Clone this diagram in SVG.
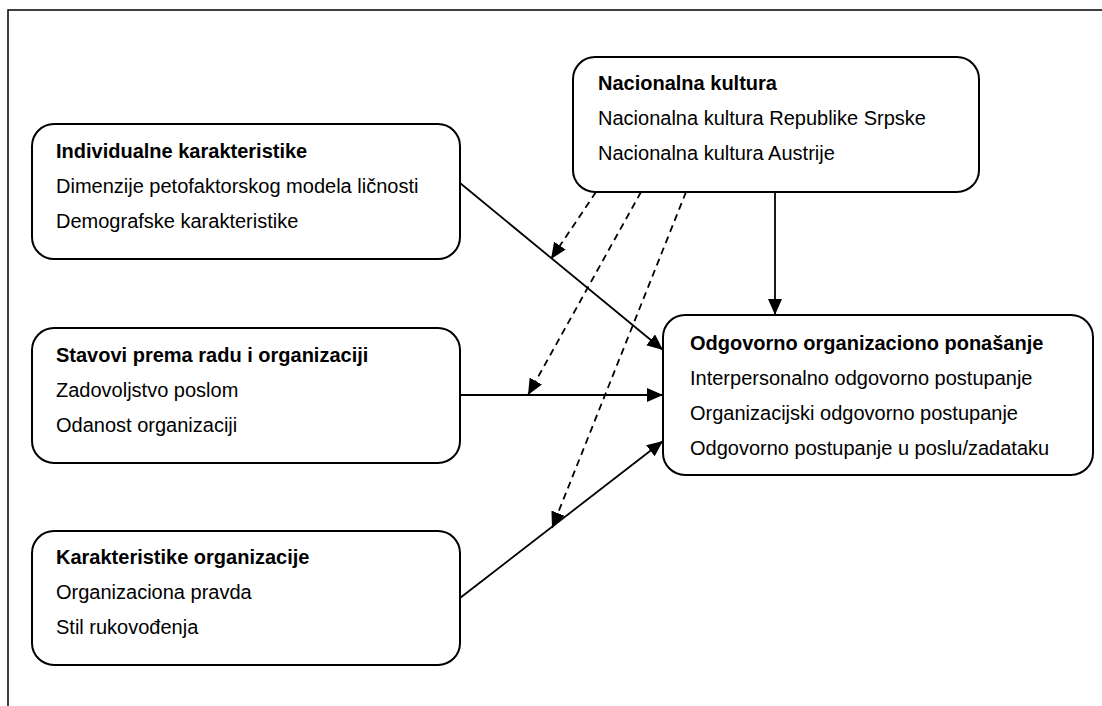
<svg xmlns="http://www.w3.org/2000/svg" width="1102" height="706" viewBox="0 0 1102 706">
<style>
.frame{fill:none;stroke:#000;stroke-width:1.5}
.box{fill:#fff;stroke:#000;stroke-width:2}
.t{font-family:"Liberation Sans",Arial,sans-serif;font-size:20px;fill:#000}
.b{font-weight:bold}
.ln{fill:none;stroke:#000;stroke-width:1.8}
.dash{stroke-dasharray:7,5}
</style>
<defs>
<marker id="ah" markerUnits="userSpaceOnUse" markerWidth="18" markerHeight="15" refX="16" refY="7" orient="auto">
<path d="M0,0 L16,7 L0,14 z" fill="#000"/>
</marker>
</defs>
<rect fill="#fff" x="0" y="0" width="1102" height="706"/>
<rect class="frame" x="8" y="10" width="1110" height="720"/>
<g id="connectors">
<line class="ln" x1="460" y1="183" x2="663" y2="350" marker-end="url(#ah)"/>
<line class="ln" x1="460" y1="395" x2="663" y2="395" marker-end="url(#ah)"/>
<line class="ln" x1="460" y1="598" x2="663" y2="441" marker-end="url(#ah)"/>
<line class="ln" x1="775" y1="192" x2="775" y2="315" marker-end="url(#ah)"/>
<line class="ln dash" x1="596" y1="192" x2="551" y2="259" marker-end="url(#ah)"/>
<line class="ln dash" x1="641" y1="192" x2="528" y2="395" marker-end="url(#ah)"/>
<line class="ln dash" x1="686" y1="192" x2="552" y2="528" marker-end="url(#ah)"/>
</g>
<g id="individualne">
<rect class="box" x="32" y="124" width="428" height="135" rx="22"/>
<text class="t b" x="56" y="158">Individualne karakteristike</text>
<text class="t" x="56" y="193">Dimenzije petofaktorskog modela ličnosti</text>
<text class="t" x="56" y="228">Demografske karakteristike</text>
</g>
<g id="stavovi">
<rect class="box" x="32" y="328" width="428" height="135" rx="22"/>
<text class="t b" x="56" y="362">Stavovi prema radu i organizaciji</text>
<text class="t" x="56" y="397">Zadovoljstvo poslom</text>
<text class="t" x="56" y="432">Odanost organizaciji</text>
</g>
<g id="karakteristike">
<rect class="box" x="32" y="531" width="428" height="134" rx="22"/>
<text class="t b" x="56" y="564">Karakteristike organizacije</text>
<text class="t" x="56" y="599">Organizaciona pravda</text>
<text class="t" x="56" y="634">Stil rukovođenja</text>
</g>
<g id="nacionalna">
<rect class="box" x="573" y="57" width="406" height="135" rx="22"/>
<text class="t b" x="598" y="90">Nacionalna kultura</text>
<text class="t" x="598" y="125">Nacionalna kultura Republike Srpske</text>
<text class="t" x="598" y="160">Nacionalna kultura Austrije</text>
</g>
<g id="odgovorno">
<rect class="box" x="663" y="315" width="430" height="160" rx="22"/>
<text class="t b" x="690" y="350">Odgovorno organizaciono ponašanje</text>
<text class="t" x="690" y="385">Interpersonalno odgovorno postupanje</text>
<text class="t" x="690" y="420">Organizacijski odgovorno postupanje</text>
<text class="t" x="690" y="455">Odgovorno postupanje u poslu/zadataku</text>
</g>
</svg>
